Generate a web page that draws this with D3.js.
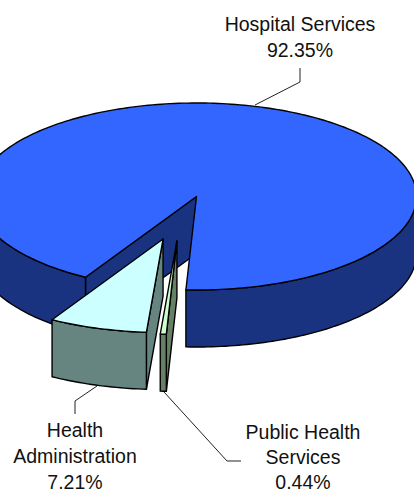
<!DOCTYPE html>
<html lang="en">
  <head>
    <meta charset="utf-8">
    <title>Health spending</title>
    <script src="https://d3js.org/d3.v7.min.js"></script>
    <style>
      html, body { margin: 0; padding: 0; background: #fff; }
      svg { display: block; }
      text { font: 19.5px "Liberation Sans", Arial, sans-serif; fill: #111; text-anchor: middle; }
      .edge { stroke: #000; stroke-width: 1.4; stroke-linejoin: round; }
      .leader { fill: none; stroke: #222; stroke-width: 1; }
    </style>
  </head>
  <body>
    <div id="chart"></div>
    <script type="text/javascript">
      "use strict"
      var categories = ['Hospital Services', 'Public Health Services', 'Health Administration']
      var values = [92.35, 0.44, 7.21]
      var topColors = ['#3366ff', '#ccffcc', '#ccffff']
      var wallColors = ['#1a3380', '#668066', '#668581']

      var width = 414, height = 493
      var depth = 57

      // the pie is a flat circle of radius 1 seen from above, so two scales squash it to an ellipse
      var x = d3.scaleLinear().domain([-1, 1]).range([196.5 - 220, 196.5 + 220])
      var y = d3.scaleLinear().domain([-1, 1]).range([196.5 - 93.5, 196.5 + 93.5])

      // how far each slice is pulled out, in pie units
      var explode = [[0, 0], [-0.089, 0.475], [-0.152, 0.455]]

      // text lines and leader lines of each label
      var labelLines = [
        ['Hospital Services', '92.35%'],
        ['Public Health', 'Services', '0.44%'],
        ['Health', 'Administration', '7.21%']
      ]
      var labelPos = [
        {x: 300, y: 31, step: 26, leader: [[300, 68], [300, 82], [255, 105]]},
        {x: 303, y: 439, step: 25, leader: [[164, 392], [227, 461], [241, 461]]},
        {x: 75, y: 437, step: 26, leader: [[75, 414], [75, 401], [97, 386]]}
      ]

      var svg = d3.select('#chart').append('svg')
        .attr('width', width)
        .attr('height', height)

      var startAngle = 210.3 * Math.PI / 180
      var pie = d3.pie().sort(null)
        .startAngle(startAngle)
        .endAngle(startAngle + 2 * Math.PI)
      var slices = pie(values)

      var line = d3.line().curve(d3.curveLinear)

      // angle is clockwise from the top, like d3.pie
      function rimPoint(i, angle, drop) {
        var off = explode[i]
        return [x(Math.sin(angle) + off[0]), y(-Math.cos(angle) + off[1]) + drop]
      }
      function apex(i, drop) {
        var off = explode[i]
        return [x(off[0]), y(off[1]) + drop]
      }
      function arcPoints(i, a0, a1, drop) {
        var n = Math.max(2, Math.ceil(Math.abs(a1 - a0) / 0.02))
        return d3.range(n + 1).map(k => rimPoint(i, a0 + (a1 - a0) * k / n, drop))
      }
      function polygon(points, fill) {
        svg.append('path')
          .attr('class', 'edge')
          .attr('d', line(points) + 'Z')
          .attr('fill', fill)
      }
      // only the part of the rim on the near half of the ellipse shows a wall
      function outerWall(i, a0, a1) {
        var top = arcPoints(i, a0, a1, 0)
        var bottom = arcPoints(i, a1, a0, depth)
        polygon(top.concat(bottom), wallColors[i])
      }

      function drawSlice(i) {
        var s = slices[i]
        var tau = 2 * Math.PI
        // inner cut face
        polygon([apex(i, 0), rimPoint(i, s.startAngle, 0), rimPoint(i, s.startAngle, depth), apex(i, depth)], wallColors[i])
        if (i === 0) {
          outerWall(i, s.startAngle, 1.5 * Math.PI)
          outerWall(i, 0.5 * Math.PI + tau, s.endAngle)
        } else {
          outerWall(i, s.startAngle, s.endAngle)
        }
        // top face
        var rim = arcPoints(i, s.startAngle, s.endAngle, 0)
        polygon([apex(i, 0)].concat(rim), topColors[i])
      }

      drawSlice(0)
      drawSlice(2)
      drawSlice(1)

      // labels
      labelPos.forEach(function(pos, i) {
        svg.append('path')
          .attr('class', 'leader')
          .attr('d', line(pos.leader))
        svg.selectAll(null)
          .data(labelLines[i])
          .enter()
          .append('text')
            .attr('x', pos.x)
            .attr('y', (d, k) => pos.y + k * pos.step)
            .text(d => d)
      })
    </script>
  </body>
</html>
